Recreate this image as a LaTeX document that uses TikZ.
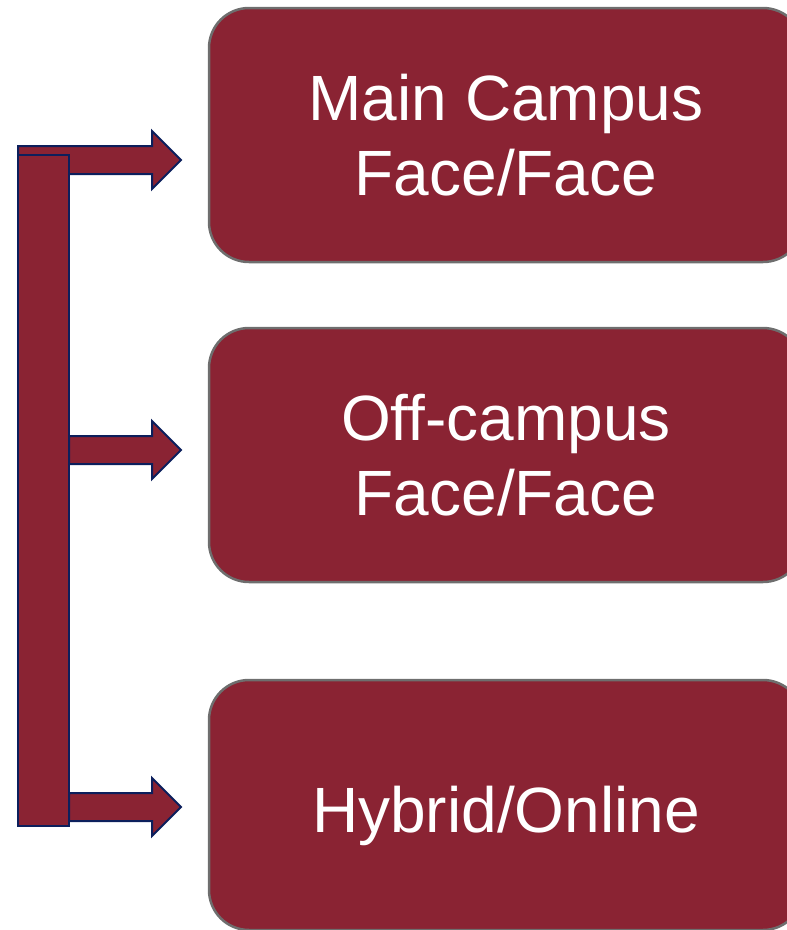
\documentclass[tikz,border=0pt]{standalone}
\usepackage{fontspec}
\setmainfont{Liberation Sans}
\definecolor{maroon}{HTML}{8A2333}
\definecolor{navyline}{HTML}{0C1F5C}
\definecolor{boxline}{HTML}{6E6E6E}
\tikzset{
  modebox/.style={draw=boxline, line width=2.5pt, fill=maroon, rounded corners=40pt,
    minimum width=594pt, text=white, align=center, text depth=0pt,
    font=\fontsize{64}{75}\selectfont},
  blockarrow/.style={draw=navyline, line width=2pt, fill=maroon, line join=miter},
  barbox/.style={draw=navyline, line width=2pt, fill=maroon, minimum width=51pt,
    minimum height=671pt, inner sep=0pt}
}
\begin{document}
\begin{tikzpicture}[x=1pt,y=-1pt]
\useasboundingbox (0,0) rectangle (787,930);

% delivery modes
\node[modebox, minimum height=254pt] (main) at (506,135) {Main Campus\\Face/Face};
\node[modebox, minimum height=254pt] (off) at (506,455) {Off-campus\\Face/Face};
\node[modebox, minimum height=250pt, text height=54pt] (hybrid) at (506,805) {Hybrid/Online};

% arrow tips
\coordinate (tipmain) at (181,160);
\coordinate (tipoff) at (181,450);
\coordinate (tiphybrid) at (181,807);

\draw[blockarrow] (tipmain) -- ++(-29,-29) -- ++(0,15) -- ++(-134,0) -- ++(0,28)
  -- ++(134,0) -- ++(0,15) -- cycle;

% left bar
\node[barbox] (bar) at (43.5,490.5) {};

\draw[blockarrow] (tipoff) -- ++(-29,-29) -- ++(0,15) -- ++(-83,0) -- ++(0,28)
  -- ++(83,0) -- ++(0,15) -- cycle;
\draw[blockarrow] (tiphybrid) -- ++(-29,-29) -- ++(0,15) -- ++(-83,0) -- ++(0,28)
  -- ++(83,0) -- ++(0,15) -- cycle;

\end{tikzpicture}
\end{document}
